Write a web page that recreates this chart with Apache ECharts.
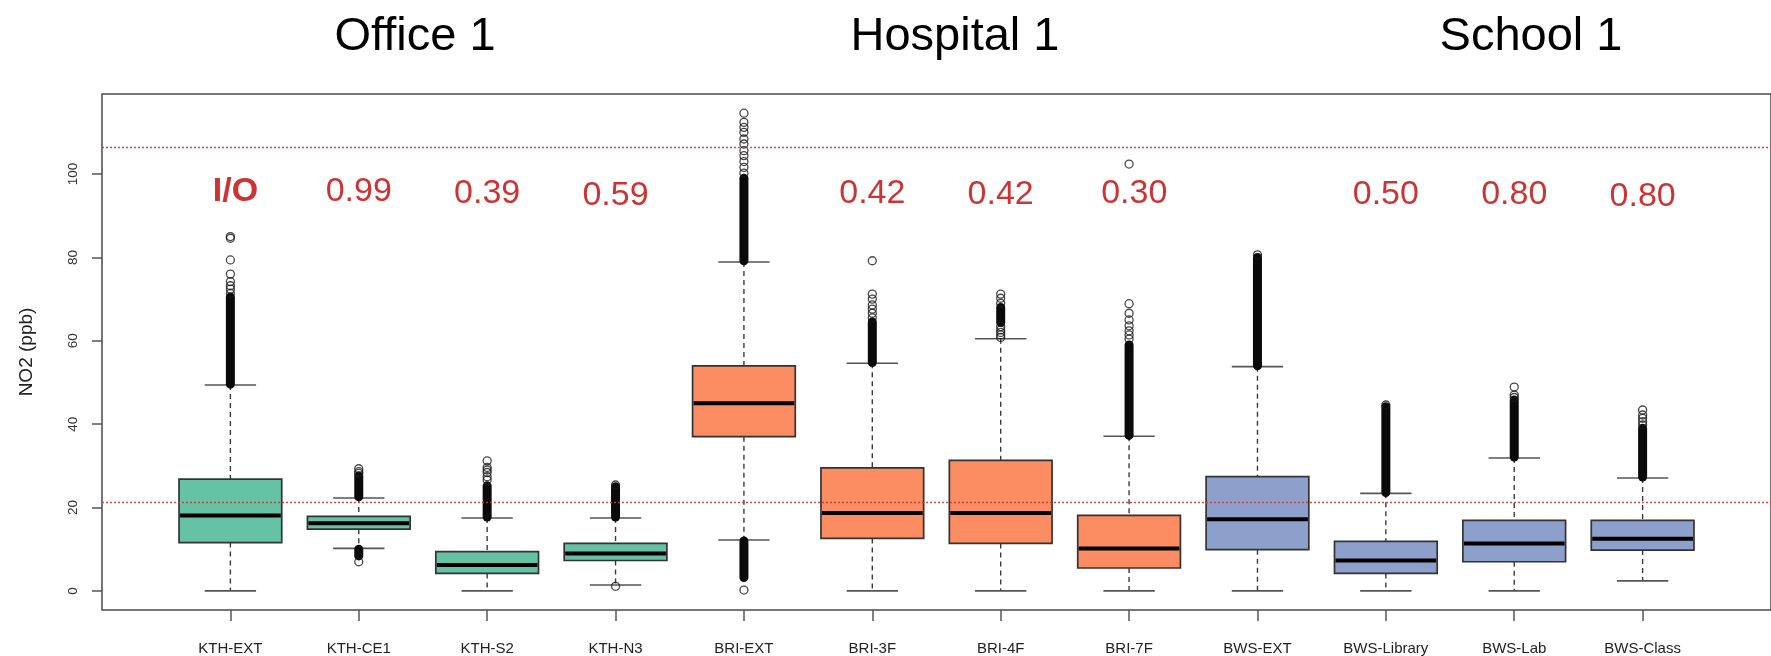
<!DOCTYPE html>
<html>
<head>
<meta charset="utf-8">
<script src="https://cdn.jsdelivr.net/npm/echarts@6/dist/echarts.min.js"></script>
<style>
  html, body { margin: 0; padding: 0; background: #fff; }
  #chart { width: 1771px; height: 656px; }
</style>
</head>
<body>
<div id="chart"></div>
<script>
// ---------------- DATA ----------------
const categories = ['KTH-EXT', 'KTH-CE1', 'KTH-S2', 'KTH-N3', 'BRI-EXT', 'BRI-3F', 'BRI-4F', 'BRI-7F', 'BWS-EXT', 'BWS-Library', 'BWS-Lab', 'BWS-Class'];
const siteGroup = [0, 0, 0, 0, 1, 1, 1, 1, 2, 2, 2, 2];
const siteNames = ['Office 1', 'Hospital 1', 'School 1'];
const siteCenters = [415, 955, 1531];

// five-number summaries (ppb)
const lowerWhisker = [0, 10.2, 0, 1.4, 12.2, 0, 0, 0, 0, 0, 0, 2.4];
const q1Values     = [11.6, 14.8, 4.2, 7.3, 37.0, 12.6, 11.4, 5.5, 9.9, 4.2, 7.0, 9.8];
const medianValues = [18.1, 16.2, 6.2, 9.0, 45.0, 18.7, 18.7, 10.2, 17.2, 7.3, 11.4, 12.5];
const q3Values     = [26.8, 17.9, 9.4, 11.4, 54.0, 29.5, 31.3, 18.1, 27.4, 11.9, 16.9, 16.9];
const upperWhisker = [49.4, 22.3, 17.5, 17.5, 78.9, 54.6, 60.5, 37.1, 53.8, 23.4, 31.9, 27.1];

// dense runs of outliers that merge into a solid column: [category, from, to]
const denseOutliers = [
  ['KTH-EXT', 49.6, 70.5],
  ['KTH-CE1', 22.6, 27.6], ['KTH-CE1', 8.4, 10.0],
  ['KTH-S2', 17.7, 25.2],
  ['KTH-N3', 17.7, 25.0],
  ['BRI-EXT', 79.2, 99.0], ['BRI-EXT', 3.2, 12.0],
  ['BRI-3F', 54.8, 64.5],
  ['BRI-4F', 64.4, 68.0],
  ['BRI-7F', 37.3, 59.0],
  ['BWS-EXT', 54.0, 80.0],
  ['BWS-Library', 23.6, 44.2],
  ['BWS-Lab', 32.1, 45.8],
  ['BWS-Class', 27.3, 39.0]
];

// individual outliers: [category, value]
const sparseOutliers = [
  ['KTH-EXT', 71.4], ['KTH-EXT', 72.4], ['KTH-EXT', 73.2], ['KTH-EXT', 74.2], ['KTH-EXT', 76.0], ['KTH-EXT', 79.4], ['KTH-EXT', 84.6], ['KTH-EXT', 85.0],
  ['KTH-CE1', 28.2], ['KTH-CE1', 28.6], ['KTH-CE1', 29.3], ['KTH-CE1', 7.0],
  ['KTH-S2', 26.6], ['KTH-S2', 27.4], ['KTH-S2', 28.4], ['KTH-S2', 29.0], ['KTH-S2', 29.6], ['KTH-S2', 31.2],
  ['KTH-N3', 25.4], ['KTH-N3', 1.1],
  ['BRI-EXT', 100.2], ['BRI-EXT', 101.6], ['BRI-EXT', 103.0], ['BRI-EXT', 104.4], ['BRI-EXT', 105.6], ['BRI-EXT', 107.2],
  ['BRI-EXT', 108.4], ['BRI-EXT', 110.0], ['BRI-EXT', 111.2], ['BRI-EXT', 112.4], ['BRI-EXT', 114.6], ['BRI-EXT', 0.2],
  ['BRI-3F', 65.5], ['BRI-3F', 66.6], ['BRI-3F', 67.6], ['BRI-3F', 68.6], ['BRI-3F', 70.0], ['BRI-3F', 71.2], ['BRI-3F', 79.2],
  ['BRI-4F', 60.8], ['BRI-4F', 61.4], ['BRI-4F', 62.0], ['BRI-4F', 62.6], ['BRI-4F', 63.4], ['BRI-4F', 69.0], ['BRI-4F', 70.2], ['BRI-4F', 71.2],
  ['BRI-7F', 60.4], ['BRI-7F', 61.4], ['BRI-7F', 62.4], ['BRI-7F', 63.6], ['BRI-7F', 65.0], ['BRI-7F', 66.6], ['BRI-7F', 68.9], ['BRI-7F', 102.4],
  ['BWS-EXT', 80.6],
  ['BWS-Library', 44.6],
  ['BWS-Lab', 46.4], ['BWS-Lab', 47.0], ['BWS-Lab', 48.9],
  ['BWS-Class', 39.8], ['BWS-Class', 40.6], ['BWS-Class', 41.4], ['BWS-Class', 42.2], ['BWS-Class', 43.4]
];

// I/O ratio annotations (x in category positions, y in ppb)
const ratioLabels = ['I/O', '0.99', '0.39', '0.59', '0.42', '0.42', '0.30', '0.50', '0.80', '0.80'];
const ratioX = [1.04, 2.0, 3.0, 4.0, 6.0, 7.0, 8.04, 10.0, 11.0, 12.0];
const ratioY = [95.9, 95.8, 95.4, 94.9, 95.4, 95.1, 95.4, 95.1, 95.1, 94.7];

// guideline levels (ppb)
const guidelineLevels = [106.4, 21.3];

const yTicks = [0, 20, 40, 60, 80, 100];
const yMin = -4.58, yMax = 119.2;

// ---------------- STYLE ----------------
const boxColors = ['#66C2A5', '#FC8D62', '#8DA0CB'];
const FONT = "'Liberation Sans', Arial, Helvetica, sans-serif";
const BOX_WEX = 0.8, STAPLE_WEX = 0.5;

const catPos = name => categories.indexOf(name) + 1;

const boxData = categories.map((c, k) => [k + 1, lowerWhisker[k], q1Values[k], medianValues[k], q3Values[k], upperWhisker[k]]);
const denseData = denseOutliers.map(d => [catPos(d[0]), d[1], d[2]]);
const sparseData = sparseOutliers.map(d => [catPos(d[0]), d[1]]);
const ratioData = ratioLabels.map((t, i) => ({
  value: [ratioX[i], ratioY[i]],
  name: t,
  label: t === 'I/O' ? { fontWeight: 'bold' } : undefined
}));

function renderBox(params, api) {
  const x = api.value(0);
  const pLo = api.coord([x, api.value(1)]);
  const pQ1 = api.coord([x, api.value(2)]);
  const pMed = api.coord([x, api.value(3)]);
  const pQ3 = api.coord([x, api.value(4)]);
  const pHi = api.coord([x, api.value(5)]);
  const band = api.size([1, 0])[0];
  const bw = band * BOX_WEX;
  const sw = bw * STAPLE_WEX;
  const cx = pQ1[0];
  const color = boxColors[siteGroup[params.dataIndex]];
  const wStyle = { stroke: '#3a3a3a', lineWidth: 1.4, lineDash: [5, 4], fill: null };
  const sStyle = { stroke: '#555', lineWidth: 1.6, fill: null };
  return {
    type: 'group',
    children: [
      { type: 'line', shape: { x1: cx, y1: pHi[1], x2: cx, y2: pQ3[1] }, style: wStyle },
      { type: 'line', shape: { x1: cx, y1: pQ1[1], x2: cx, y2: pLo[1] }, style: wStyle },
      { type: 'line', shape: { x1: cx - sw / 2, y1: pHi[1], x2: cx + sw / 2, y2: pHi[1] }, style: sStyle },
      { type: 'line', shape: { x1: cx - sw / 2, y1: pLo[1], x2: cx + sw / 2, y2: pLo[1] }, style: sStyle },
      { type: 'rect', shape: { x: cx - bw / 2, y: pQ3[1], width: bw, height: pQ1[1] - pQ3[1] },
        style: { fill: color, stroke: '#333', lineWidth: 1.7 } },
      { type: 'line', shape: { x1: cx - bw / 2 + 1, y1: pMed[1], x2: cx + bw / 2 - 1, y2: pMed[1] },
        style: { stroke: '#000', lineWidth: 4 } }
    ]
  };
}

function renderDense(params, api) {
  const x = api.value(0);
  const pA = api.coord([x, api.value(1)]);
  const pB = api.coord([x, api.value(2)]);
  const w = 9;
  const top = Math.min(pA[1], pB[1]) - w / 2;
  const h = Math.abs(pA[1] - pB[1]) + w;
  return {
    type: 'rect',
    shape: { x: pA[0] - w / 2, y: top, width: w, height: h, r: w / 2 },
    style: { fill: '#0a0a0a' }
  };
}

const chart = echarts.init(document.getElementById('chart'), null, { renderer: 'canvas' });

chart.setOption({
  animation: false,
  backgroundColor: '#ffffff',
  textStyle: { fontFamily: FONT },
  title: siteNames.map((n, i) => ({
    text: n,
    left: siteCenters[i],
    top: 37,
    padding: 0,
    textAlign: 'center',
    textVerticalAlign: 'middle',
    textStyle: { fontFamily: FONT, fontSize: 47, fontWeight: 'normal', color: '#000' }
  })),
  grid: {
    left: 102, top: 94, right: -14.5, bottom: 46,
    show: true, borderColor: '#4a4a4a', borderWidth: 1.5, backgroundColor: 'transparent'
  },
  xAxis: {
    type: 'value',
    min: 0, max: 13,
    position: 'bottom',
    splitLine: { show: false },
    axisLine: { show: false, onZero: false },
    axisTick: { show: true, customValues: categories.map((c, k) => k + 1), length: 11, lineStyle: { color: '#555', width: 1.5 } },
    axisLabel: {
      show: true,
      customValues: categories.map((c, k) => k + 1),
      formatter: v => categories[Math.round(v) - 1] || '',
      fontFamily: FONT, fontSize: 15, color: '#222', margin: 31
    }
  },
  yAxis: {
    type: 'value',
    min: yMin, max: yMax,
    position: 'left',
    name: 'NO2 (ppb)',
    nameLocation: 'middle',
    nameGap: 66,
    nameTextStyle: { fontFamily: FONT, fontSize: 19, color: '#222' },
    splitLine: { show: false },
    axisLine: { show: false, onZero: false },
    axisTick: { show: true, customValues: yTicks, length: 10, lineStyle: { color: '#555', width: 1.5 } },
    axisLabel: {
      show: true, customValues: yTicks, rotate: 90,
      fontFamily: FONT, fontSize: 13.5, color: '#333', margin: 22
    }
  },
  series: [
    {
      type: 'custom',
      name: 'boxes',
      renderItem: renderBox,
      data: boxData,
      encode: { x: 0, y: [1, 2, 3, 4, 5] },
      z: 2,
      silent: true
    },
    {
      type: 'custom',
      name: 'dense outliers',
      renderItem: renderDense,
      data: denseData,
      encode: { x: 0, y: [1, 2] },
      z: 3,
      silent: true
    },
    {
      type: 'scatter',
      name: 'outliers',
      data: sparseData,
      symbol: 'circle',
      symbolSize: 8,
      itemStyle: { color: 'rgba(255,255,255,0)', borderColor: '#1a1a1a', borderWidth: 1.3 },
      z: 4,
      silent: true
    },
    {
      type: 'scatter',
      name: 'ratios',
      data: ratioData,
      symbolSize: 0,
      silent: true,
      z: 6,
      label: {
        show: true,
        position: 'inside',
        formatter: p => p.name,
        fontFamily: FONT,
        fontSize: 34,
        color: '#c00000'
      },
      markLine: {
        silent: true,
        symbol: ['none', 'none'],
        label: { show: false },
        lineStyle: { color: '#c43c3c', width: 1.4, type: [2, 2], opacity: 0.9 },
        data: guidelineLevels.map(v => ({ yAxis: v }))
      }
    }
  ]
});
</script>
</body>
</html>
